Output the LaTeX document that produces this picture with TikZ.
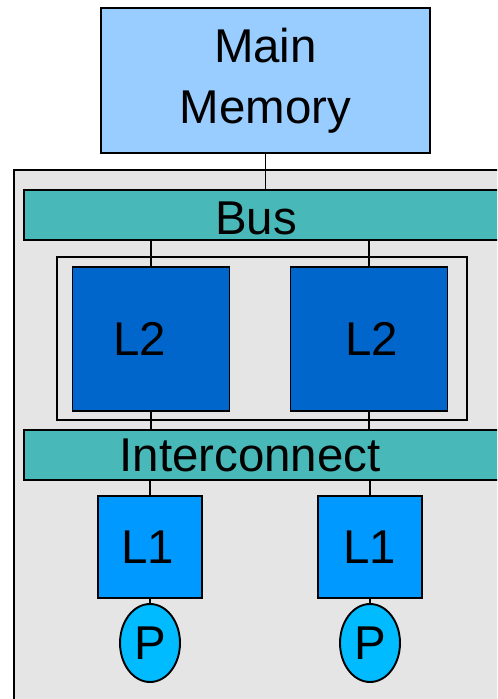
\documentclass[tikz,border=0pt]{standalone}
\usepackage{fontspec}
\setmainfont{Liberation Sans}
\usetikzlibrary{positioning,shapes.geometric}

\definecolor{memblue}{HTML}{99CCFF}
\definecolor{bargreen}{HTML}{48B8B8}
\definecolor{chipgrey}{HTML}{E5E5E5}
\definecolor{ltwoblue}{HTML}{0066CC}
\definecolor{lonebue}{HTML}{0099FF}
\definecolor{procblue}{HTML}{00BBFF}

\begin{document}
\begin{tikzpicture}[
x=0.02cm,
y=-0.02cm,
line width=1.1pt,
font=\fontsize{27}{34.7}\selectfont,
box/.style={
  draw,
  rectangle,
  inner sep=0pt,
  },
mem/.style={
  box,
  fill=memblue,
  align=center,
  minimum width=6.58cm,
  minimum height=2.9cm
  },
bar/.style={
  box,
  fill=bargreen,
  minimum width=9.74cm,
  minimum height=1cm
  },
ltwo/.style={
  box,
  fill=ltwoblue,
  minimum width=3.14cm,
  minimum height=2.88cm
  },
lone/.style={
  box,
  fill=lonebue,
  minimum width=2.08cm,
  minimum height=2.04cm
  },
proc/.style={
  draw,
  ellipse,
  fill=procblue,
  inner sep=0pt,
  minimum width=1.2cm,
  minimum height=1.56cm
  },
plain/.style={
  draw=none,
  fill=none,
  inner sep=0pt
  }
]
\useasboundingbox (0,0) rectangle (497,699);
\clip (0,0) rectangle (497,699);

% chip outline and the L2 group
\draw[fill=chipgrey] (14,170) rectangle (520,720);
\draw (57,257) rectangle (467,420);

\node[mem] (mem) at (265.5,80.5) {Main\\Memory};

\node[bar, anchor=west] (bus) at (23,215) {};
\node[plain] (buslbl) at (256,218) {Bus};
\node[bar, anchor=west] (ic) at (23,455) {};
\node[plain] (iclbl) at (250,455) {Interconnect};

\node[ltwo] (l2a) at (151,339) {\kern-0.44cm L2};
\node[ltwo] (l2b) at (369,339) {\kern0.1cm L2};

\node[lone] (l1a) at (150,547) {\kern-0.1cm L1};
\node[lone] (l1b) at (370,547) {L1};

\node[proc] (pa) at (150,643) {P};
\node[proc] (pb) at (370,643) {P};

\draw (mem.south) -- (mem.south |- bus.north);
\foreach \c in {l2a,l2b}
{
  \draw (\c.north) -- (\c.north |- bus.south);
  \draw (\c.south) -- (\c.south |- ic.north);
}
\foreach \c/\p in {l1a/pa,l1b/pb}
{
  \draw (\c.north) -- (\c.north |- ic.south);
  \draw (\c.south) -- (\p.north);
}
\end{tikzpicture}
\end{document}
